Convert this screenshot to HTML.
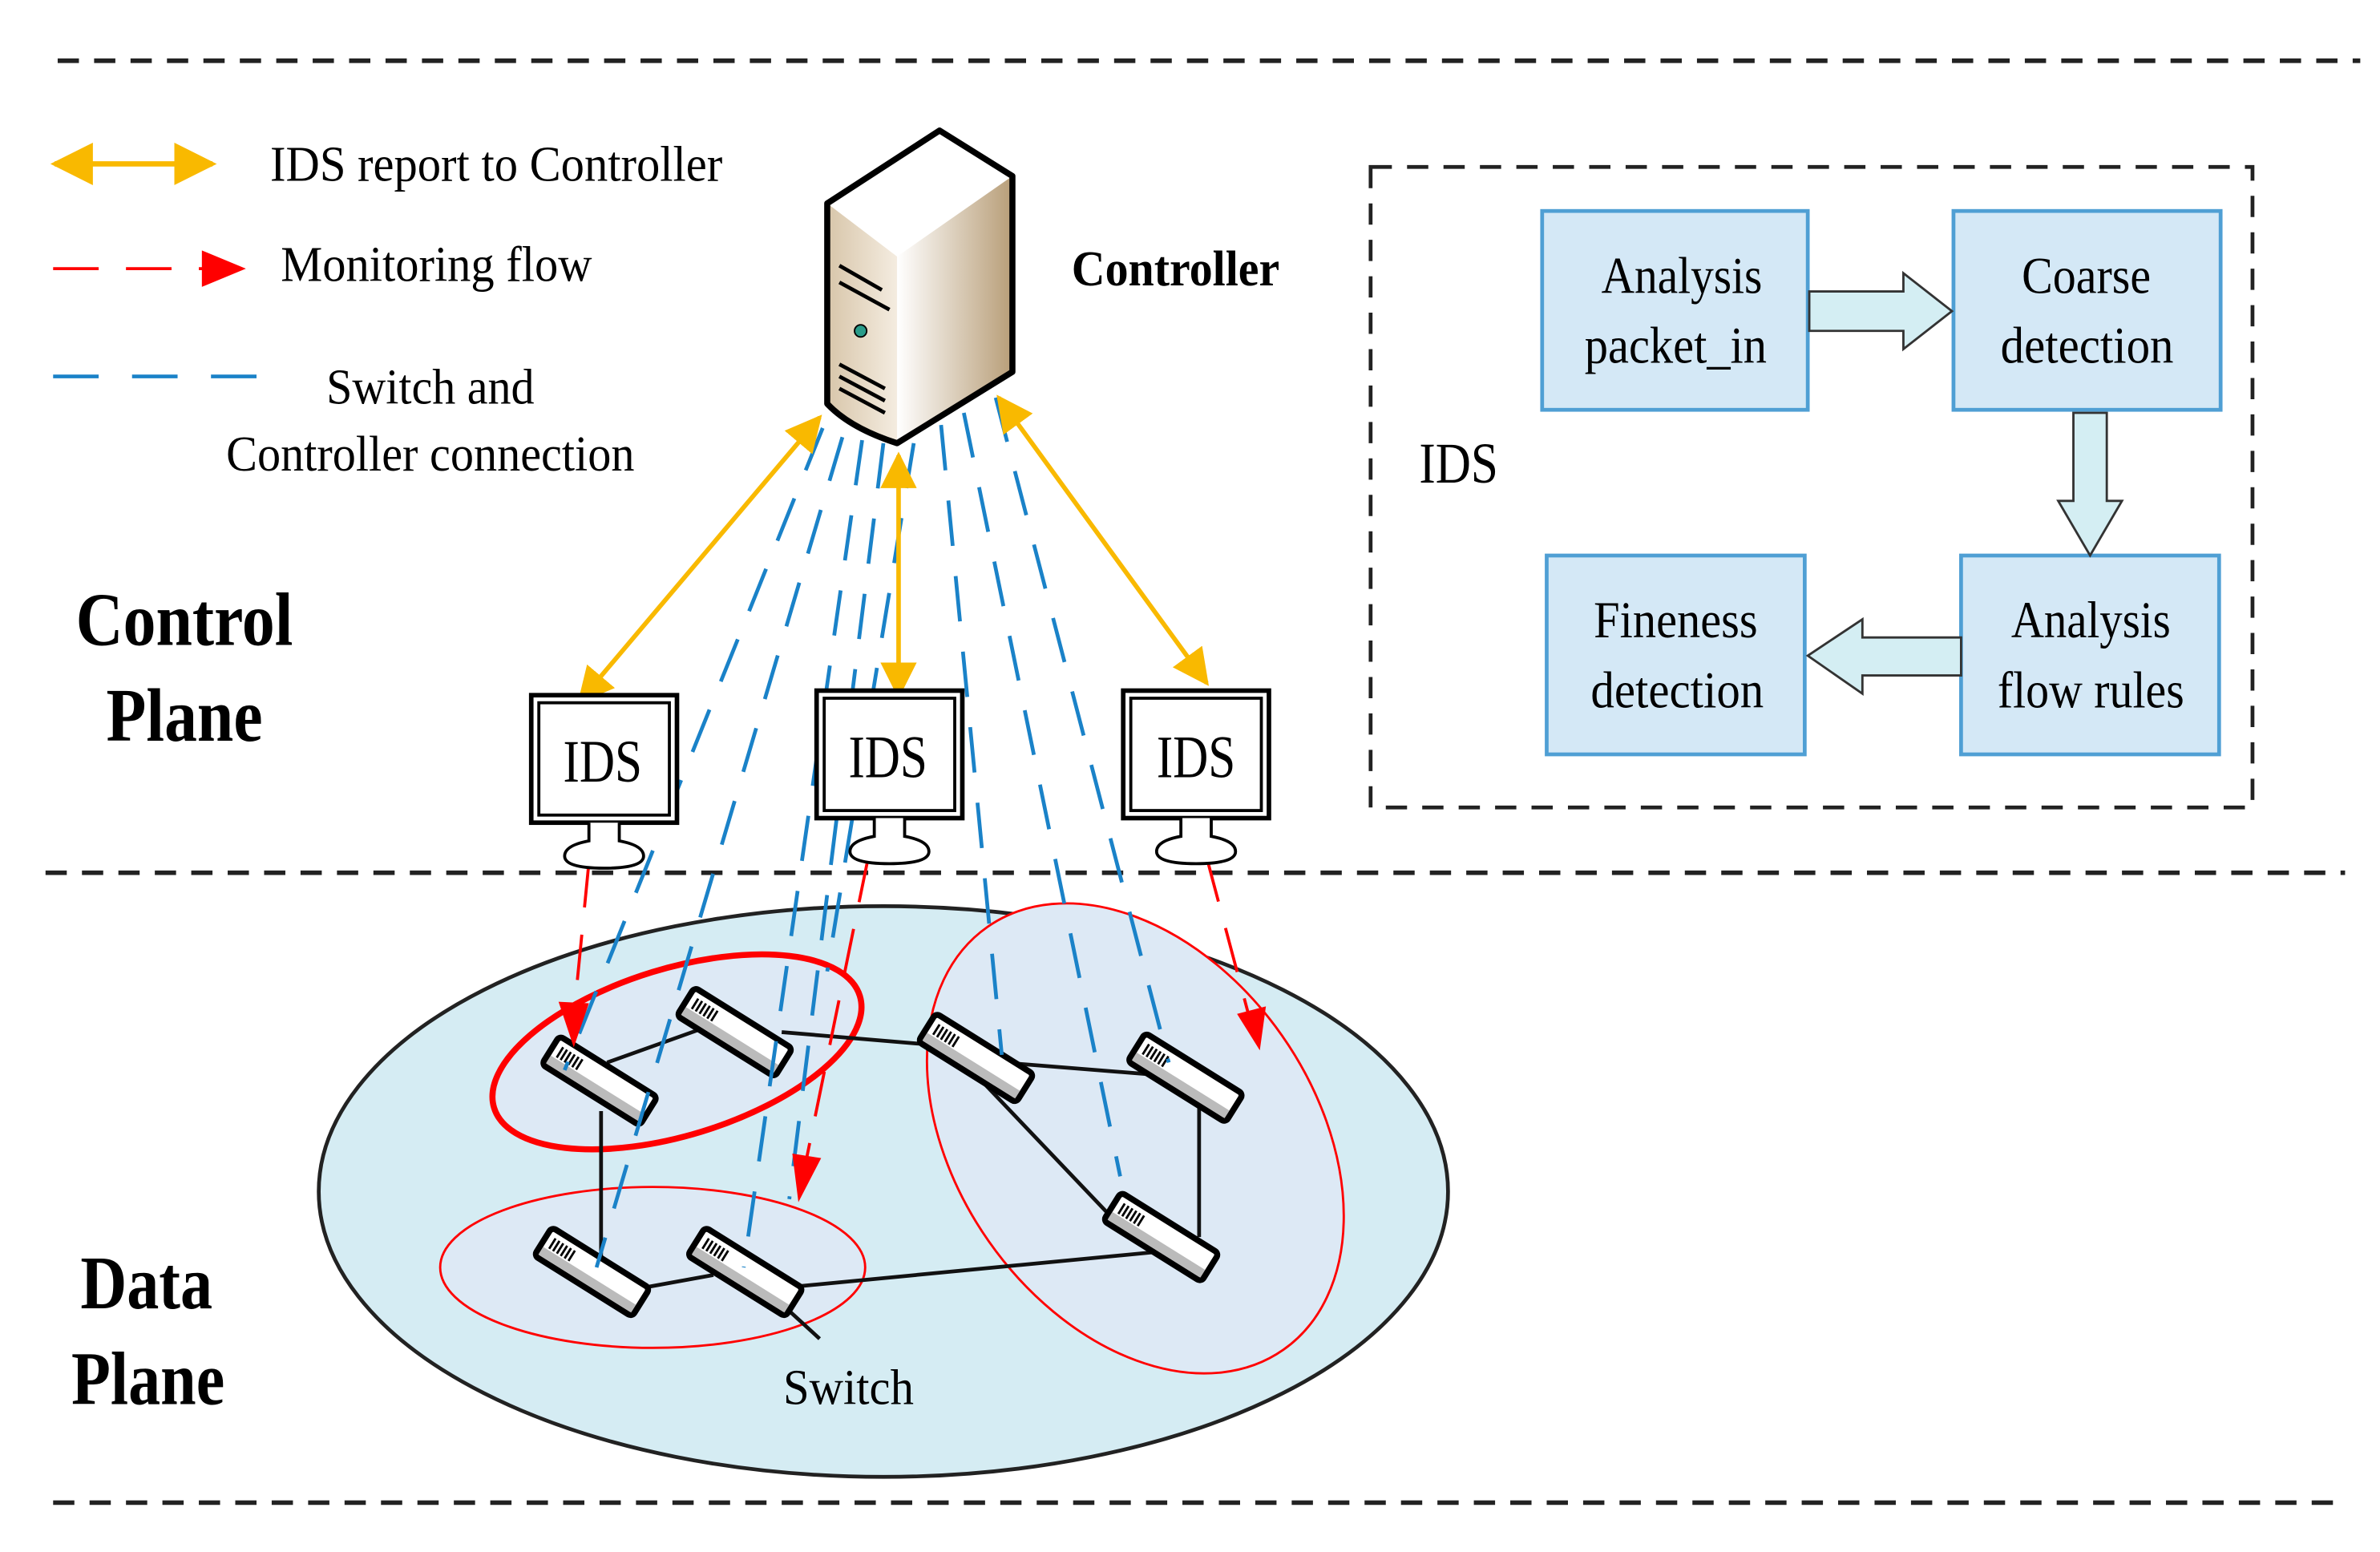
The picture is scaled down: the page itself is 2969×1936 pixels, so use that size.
<!DOCTYPE html>
<html><head><meta charset="utf-8"><style>
html,body{margin:0;padding:0;background:#fff;}
svg{display:block;}
text{font-family:"Liberation Serif",serif;}
</style></head><body>
<svg width="2969" height="1936" viewBox="0 0 1568 1022.5" preserveAspectRatio="none" xmlns="http://www.w3.org/2000/svg">
<defs>
<marker id="ya" viewBox="0 0 10 10" refX="9" refY="5" markerWidth="8" markerHeight="8" orient="auto-start-reverse" markerUnits="strokeWidth"><path d="M0,0 L10,5 L0,10 z" fill="#f9b900"/></marker>
<linearGradient id="sf" x1="0" x2="1"><stop offset="0" stop-color="#ffffff"/><stop offset="1" stop-color="#b89e78"/></linearGradient>
<linearGradient id="sl" x1="0" x2="1"><stop offset="0" stop-color="#d8c6aa"/><stop offset="1" stop-color="#f4ece0"/></linearGradient>
<g id="sw">
<g transform="rotate(32)">
<rect x="-38" y="-11" width="76" height="22" rx="3" fill="#fff" stroke="#000" stroke-width="4"/>
<rect x="-36" y="3" width="72" height="6" fill="#bbb"/>
<path d="M-32,-6v8M-29,-6v8M-26,-6v8M-23,-6v8M-20,-6v8M-17,-6v8" stroke="#000" stroke-width="1.5"/>
</g></g>
<g id="mon">
<rect x="0" y="0" width="96" height="84" fill="#fff" stroke="#000" stroke-width="3"/>
<rect x="5" y="5" width="86" height="74" fill="#fff" stroke="#000" stroke-width="2"/>
<path d="M38,84 v12 q-16,3 -16,10 q0,8 26,8 q26,0 26,-8 q0,-7 -16,-10 v-12" fill="#fff" stroke="#000" stroke-width="2"/>
</g>
</defs>

<g stroke="#222" stroke-width="3" stroke-dasharray="14,10" fill="none">
<line x1="38" y1="40" x2="1555" y2="40"/>
<line x1="30" y1="575" x2="1545" y2="575"/>
<line x1="35" y1="990" x2="1545" y2="990"/>
</g>

<line x1="36" y1="108" x2="140" y2="108" stroke="#f9b900" stroke-width="3.5" marker-start="url(#ya)" marker-end="url(#ya)"/>
<text x="178" y="119" font-size="33" textLength="298" lengthAdjust="spacingAndGlyphs">IDS report to Controller</text>
<line x1="35" y1="177" x2="135" y2="177" stroke="#f00" stroke-width="2" stroke-dasharray="30,18"/>
<path d="M133,165 L162,177 L133,189z" fill="#f00"/>
<text x="185" y="185" font-size="33" textLength="205" lengthAdjust="spacingAndGlyphs">Monitoring flow</text>
<line x1="35" y1="248" x2="170" y2="248" stroke="#1a82c8" stroke-width="2.5" stroke-dasharray="30,22"/>
<text x="215" y="266" font-size="33" textLength="137" lengthAdjust="spacingAndGlyphs">Switch and</text>
<text x="149" y="310" font-size="33" textLength="269" lengthAdjust="spacingAndGlyphs">Controller connection</text>

<text x="50" y="425" font-size="50" font-weight="bold" textLength="143" lengthAdjust="spacingAndGlyphs">Control</text>
<text x="70" y="488" font-size="50" font-weight="bold" textLength="103" lengthAdjust="spacingAndGlyphs">Plane</text>
<text x="53" y="862" font-size="50" font-weight="bold" textLength="87" lengthAdjust="spacingAndGlyphs">Data</text>
<text x="47" y="925" font-size="50" font-weight="bold" textLength="101" lengthAdjust="spacingAndGlyphs">Plane</text>

<ellipse cx="582" cy="785" rx="372" ry="188" fill="#d5ecf3" stroke="#222" stroke-width="2.5"/>
<ellipse cx="446" cy="693" rx="126" ry="55" transform="rotate(-17 446 693)" fill="#dde9f5" stroke="#f00" stroke-width="4"/>
<ellipse cx="430" cy="835" rx="140" ry="53" fill="#dde9f5" stroke="#f00" stroke-width="1.5"/>
<ellipse cx="748" cy="750" rx="170" ry="118" transform="rotate(55 748 750)" fill="#dde9f5" stroke="#f00" stroke-width="1.5"/>

<g stroke="#111" stroke-width="2.5" fill="none">
<line x1="400" y1="700" x2="470" y2="675"/>
<line x1="515" y1="680" x2="610" y2="688"/>
<line x1="660" y1="700" x2="760" y2="708"/>
<line x1="640" y1="705" x2="740" y2="810"/>
<line x1="790" y1="725" x2="790" y2="815"/>
<line x1="396" y1="732" x2="396" y2="830"/>
<line x1="415" y1="850" x2="470" y2="840"/>
<line x1="520" y1="848" x2="760" y2="825"/>
<line x1="505" y1="850" x2="540" y2="882"/>
</g>

<use href="#sw" x="395" y="712"/>
<use href="#sw" x="484" y="680"/>
<use href="#sw" x="643" y="697"/>
<use href="#sw" x="781" y="710"/>
<use href="#sw" x="765" y="815"/>
<use href="#sw" x="390" y="838"/>
<use href="#sw" x="491" y="838"/>
<text x="516" y="925" font-size="33" textLength="86" lengthAdjust="spacingAndGlyphs">Switch</text>

<g stroke="#1a82c8" stroke-width="2.5" stroke-dasharray="30,20" fill="none">
<line x1="542" y1="282" x2="372" y2="705"/>
<line x1="555" y1="288" x2="393" y2="835"/>
<line x1="568" y1="290" x2="490" y2="835"/>
<line x1="582" y1="292" x2="520" y2="790"/>
<line x1="602" y1="292" x2="545" y2="640"/>
<line x1="620" y1="280" x2="660" y2="695"/>
<line x1="635" y1="272" x2="738" y2="775"/>
<line x1="656" y1="262" x2="770" y2="700"/>
</g>

<g stroke="#f9b900" stroke-width="3" fill="none">
<line x1="540" y1="275" x2="382" y2="462" marker-start="url(#ya)" marker-end="url(#ya)"/>
<line x1="592" y1="300" x2="592" y2="458" marker-start="url(#ya)" marker-end="url(#ya)"/>
<line x1="658" y1="262" x2="795" y2="450" marker-start="url(#ya)" marker-end="url(#ya)"/>
</g>

<g stroke="#f00" stroke-width="2" stroke-dasharray="30,18" fill="none">
<line x1="388" y1="568" x2="378" y2="670"/>
<line x1="572" y1="565" x2="530" y2="770"/>
<line x1="795" y1="565" x2="823" y2="670"/>
</g>
<path d="M368,660 L378,690 L388,661z" fill="#f00"/>
<path d="M522,760 L526,792 L541,763z" fill="#f00"/>
<path d="M815,668 L830,692 L834,663z" fill="#f00"/>

<use href="#mon" x="350" y="458"/>
<use href="#mon" x="538" y="455"/>
<use href="#mon" x="740" y="455"/>
<text x="371" y="515" font-size="40" textLength="52" lengthAdjust="spacingAndGlyphs">IDS</text>
<text x="559" y="512" font-size="40" textLength="52" lengthAdjust="spacingAndGlyphs">IDS</text>
<text x="762" y="512" font-size="40" textLength="52" lengthAdjust="spacingAndGlyphs">IDS</text>

<path d="M545,134 L619,86 L667,116 L591,169 z" fill="#fff"/>
<path d="M591,169 L667,116 L667,245 L591,292 z" fill="url(#sf)"/>
<path d="M545,134 L591,169 L591,292 Q560,282 545,266 z" fill="url(#sl)"/>
<path d="M545,134 L619,86 L667,116 L667,245 L591,292 Q560,282 545,266 z" fill="none" stroke="#000" stroke-width="4" stroke-linejoin="round"/>
<path d="M553,175 l28,16 M553,186 l33,18 M553,240 l30,16 M553,248 l30,16 M553,256 l30,16" stroke="#000" stroke-width="2.5"/>
<circle cx="567" cy="218" r="4" fill="#2a9c8a" stroke="#000"/>
<text x="706" y="188" font-size="33" font-weight="bold" textLength="137" lengthAdjust="spacingAndGlyphs">Controller</text>

<rect x="903" y="110" width="581" height="422" fill="none" stroke="#222" stroke-width="2.5" stroke-dasharray="14,10"/>
<text x="935" y="318" font-size="38" textLength="52" lengthAdjust="spacingAndGlyphs">IDS</text>
<g fill="#d4e8f6" stroke="#4f9fd4" stroke-width="2.5">
<rect x="1016" y="139" width="175" height="131"/>
<rect x="1287" y="139" width="176" height="131"/>
<rect x="1292" y="366" width="170" height="131"/>
<rect x="1019" y="366" width="170" height="131"/>
</g>
<g font-size="34" lengthAdjust="spacingAndGlyphs">
<text x="1055" y="193" textLength="106" lengthAdjust="spacingAndGlyphs">Analysis</text>
<text x="1044" y="239" textLength="120" lengthAdjust="spacingAndGlyphs">packet_in</text>
<text x="1332" y="193" textLength="85" lengthAdjust="spacingAndGlyphs">Coarse</text>
<text x="1318" y="239" textLength="114" lengthAdjust="spacingAndGlyphs">detection</text>
<text x="1325" y="420" textLength="105" lengthAdjust="spacingAndGlyphs">Analysis</text>
<text x="1316" y="466" textLength="123" lengthAdjust="spacingAndGlyphs">flow rules</text>
<text x="1050" y="420" textLength="108" lengthAdjust="spacingAndGlyphs">Fineness</text>
<text x="1048" y="466" textLength="114" lengthAdjust="spacingAndGlyphs">detection</text>
</g>
<g fill="#d4eef3" stroke="#333" stroke-width="1.5">
<path d="M1192,192 L1254,192 L1254,180 L1286,205 L1254,230 L1254,218 L1192,218 z"/>
<path d="M1366,272 L1388,272 L1388,330 L1398,330 L1377,366 L1356,330 L1366,330 z"/>
<path d="M1292,420 L1227,420 L1227,408 L1191,432 L1227,457 L1227,445 L1292,445 z"/>
</g>
</svg>
</body></html>
